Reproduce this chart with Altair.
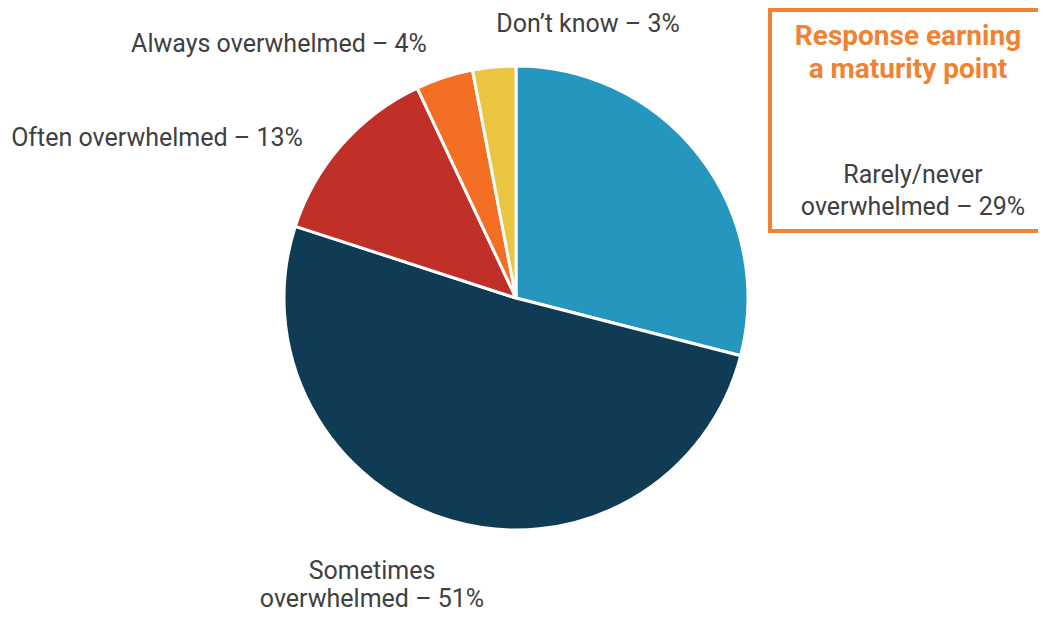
import altair as alt
import pandas as pd

categories = ["Rarely/never overwhelmed", "Sometimes overwhelmed", "Often overwhelmed",
              "Always overwhelmed", "Don\u2019t know"]
values = [29, 51, 13, 4, 3]
colors = ["#2596BE", "#0F3B54", "#C02F28", "#F26F23", "#E9C542"]
label_lines = ["Rarely/never\noverwhelmed \u2013 29%", "Sometimes\noverwhelmed \u2013 51%",
               "Often overwhelmed \u2013 13%", "Always overwhelmed \u2013 4%", "Don\u2019t know \u2013 3%"]
title_lines = ["Response earning", "a maturity point"]

df = pd.DataFrame({"category": categories, "value": values, "order": list(range(len(values))),
                   "label": label_lines})

FONT = "Roboto"
ORANGE = "#F08232"
base = alt.Chart(df)

pie = base.mark_arc(radius=232, stroke="white", strokeWidth=3).encode(
    x=alt.value(508), y=alt.value(290),
    theta=alt.Theta("value:Q", stack=True),
    order=alt.Order("order:Q"),
    color=alt.Color("category:N", scale=alt.Scale(domain=categories, range=colors), legend=None),
)

tdf = alt.Chart(pd.DataFrame({"t": ["\n".join(title_lines)]}))
rule_style = dict(color=ORANGE, strokeWidth=4, strokeCap="square")
box_top = tdf.mark_rule(**rule_style).encode(x=alt.value(762), x2=alt.value(1040), y=alt.value(2))
box_bottom = tdf.mark_rule(**rule_style).encode(x=alt.value(762), x2=alt.value(1040), y=alt.value(223))
box_left = tdf.mark_rule(**rule_style).encode(x=alt.value(762), y=alt.value(2), y2=alt.value(223))

title = tdf.mark_text(
    font=FONT, fontSize=28, fontWeight="bold", color=ORANGE, align="center",
    baseline="middle", lineBreak="\n", lineHeight=33).encode(
    x=alt.value(900), y=alt.value(29), text="t:N")

label_pos = {
    categories[0]: (905, 167, 32),
    categories[1]: (364, 563, 28),
    categories[2]: (149, 130, 32),
    categories[3]: (271, 36, 32),
    categories[4]: (580, 16, 32),
}

layers = [pie, box_top, box_bottom, box_left, title]
for cat, (px, py, lh) in label_pos.items():
    layers.append(
        base.transform_filter(alt.datum.category == cat).mark_text(
            font=FONT, fontSize=25, color="#404040", align="center", baseline="middle",
            lineBreak="\n", lineHeight=lh).encode(
            x=alt.value(px), y=alt.value(py), text="label:N")
    )

chart = alt.layer(*layers).properties(
    width=1030, height=606, padding=0, autosize=alt.AutoSizeParams(type="none")
).configure_view(stroke=None)

chart.save("out.html", embed_options={"renderer": "svg", "actions": False})
